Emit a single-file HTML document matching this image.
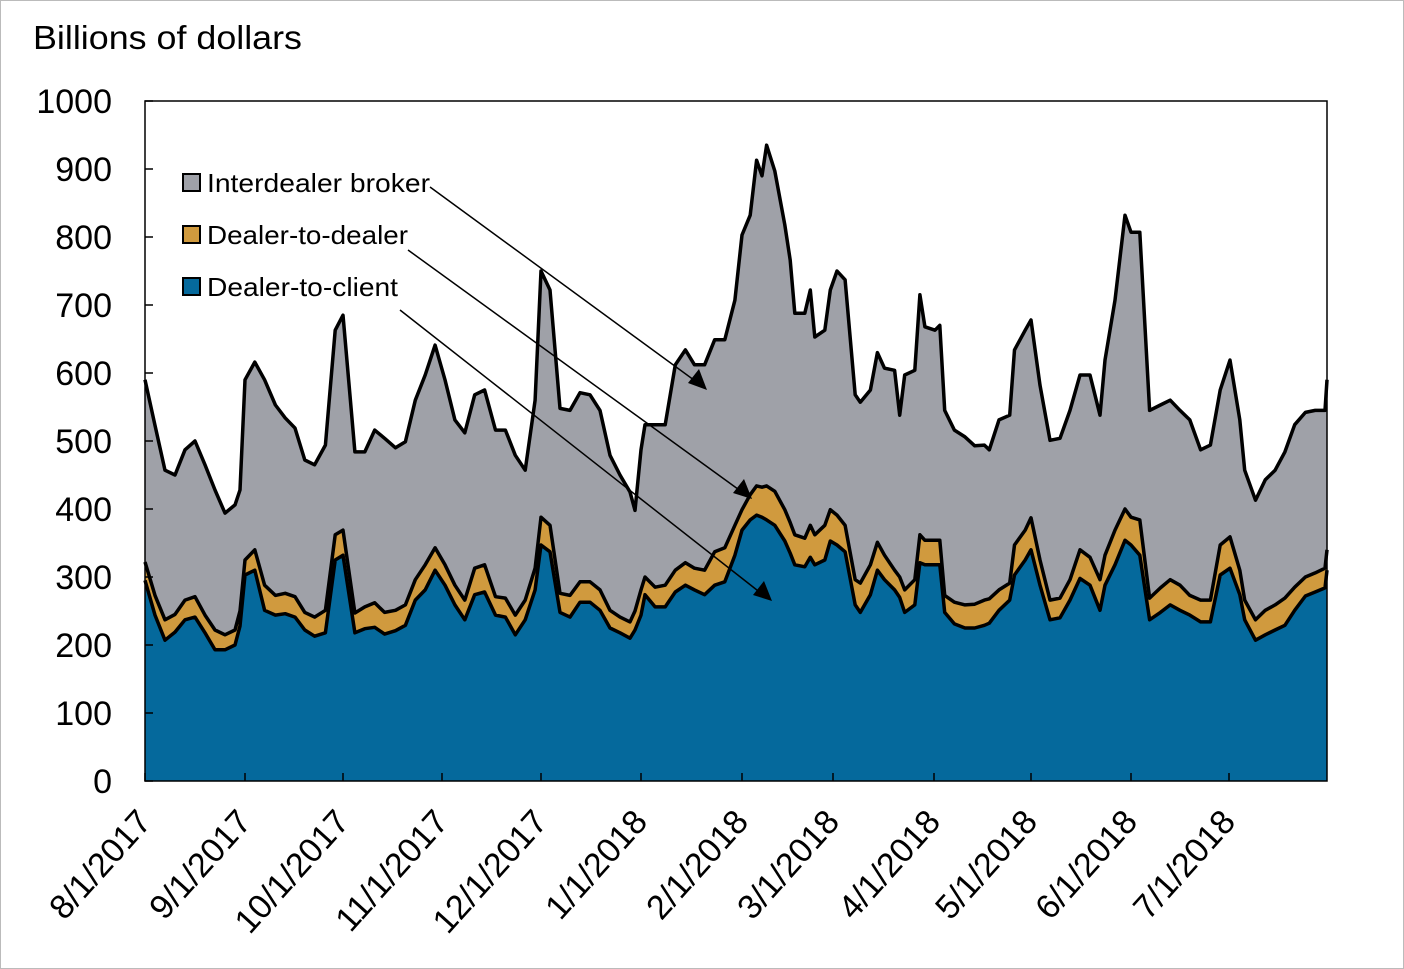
<!DOCTYPE html>
<html><head><meta charset="utf-8"><style>
html,body{margin:0;padding:0;background:#fff;}
svg{display:block;font-family:"Liberation Sans",Arial,sans-serif;}
</style></head><body>
<svg id="chart" width="1404" height="969" viewBox="0 0 1404 969" xmlns="http://www.w3.org/2000/svg">
<rect x="0.5" y="0.5" width="1403" height="968" fill="#fff" stroke="#bbb"/>
<text x="33" y="49" font-size="33" textLength="269" lengthAdjust="spacingAndGlyphs" fill="#000">Billions of dollars</text>
<g id="plot"></g>
<g id="axes"></g>
<g id="legend">
<rect x="183" y="174" width="17" height="17" fill="#9fa1a8" stroke="#000" stroke-width="2"/>
<text x="207" y="192" font-size="26" textLength="223" lengthAdjust="spacingAndGlyphs">Interdealer broker</text>
<rect x="183" y="226" width="17" height="17" fill="#d09a3e" stroke="#000" stroke-width="2"/>
<text x="207" y="244" font-size="26" textLength="201" lengthAdjust="spacingAndGlyphs">Dealer-to-dealer</text>
<rect x="183" y="278" width="17" height="17" fill="#05699c" stroke="#000" stroke-width="2"/>
<text x="207" y="296" font-size="26" textLength="191" lengthAdjust="spacingAndGlyphs">Dealer-to-client</text>
</g>
<g id="arrows">
<line x1="430" y1="187" x2="698" y2="383" stroke="#000" stroke-width="1.5"/>
<polygon points="707,390 688,383 699,369" fill="#000"/>
<line x1="408" y1="250" x2="742" y2="492" stroke="#000" stroke-width="1.5"/>
<polygon points="752,499 733,493 744,479" fill="#000"/>
<line x1="400" y1="310" x2="762" y2="594" stroke="#000" stroke-width="1.5"/>
<polygon points="772,601 753,595 764,581" fill="#000"/>
</g>
</svg>
<script>
// time in months since 8/1/2017
var months = [0,.10,.20,.30,.40,.50,.60,.70,.80,.90,.95,1,1.10,1.20,1.31,1.41,1.51,1.61,1.71,1.82,1.92,2,2.12,2.22,2.32,2.42,2.53,2.63,2.73,2.83,2.93,3.03,3.13,3.23,3.33,3.43,3.54,3.64,3.74,3.84,3.94,4,4.09,4.19,4.29,4.39,4.49,4.59,4.69,4.79,4.89,4.94,5,5.04,5.14,5.24,5.34,5.44,5.53,5.63,5.73,5.83,5.93,6,6.09,6.16,6.22,6.27,6.36,6.47,6.53,6.58,6.69,6.75,6.80,6.91,6.97,7.04,7.12,7.22,7.27,7.37,7.44,7.51,7.61,7.66,7.71,7.81,7.86,7.91,8.01,8.06,8.11,8.21,8.32,8.42,8.52,8.57,8.67,8.78,8.83,8.94,9,9.09,9.19,9.29,9.39,9.49,9.59,9.69,9.74,9.84,9.94,10,10.09,10.19,10.30,10.40,10.50,10.60,10.71,10.81,10.91,11.01,11.11,11.16,11.27,11.37,11.47,11.57,11.67,11.78,11.88,11.98,12];
var dealerToClient = [295,244,207,219,237,241,218,193,193,200,228,303,310,251,244,246,241,222,213,218,325,332,218,224,226,216,221,229,266,281,310,288,259,237,274,278,244,241,215,237,281,347,337,248,241,263,263,251,225,218,210,222,244,274,256,256,278,288,281,274,288,293,332,369,384,391,388,384,376,353,335,318,315,329,318,325,353,347,337,259,248,274,310,296,281,270,248,259,321,318,318,318,248,231,225,225,229,232,251,266,303,325,340,288,237,240,266,298,288,251,288,318,354,347,332,237,248,259,251,244,234,234,303,313,274,237,207,215,222,229,251,272,278,284,310];
var dealerToDealer = [27,29,30,26,29,30,26,29,22,22,22,22,30,37,29,30,30,26,28,33,37,37,29,32,36,32,30,30,30,37,33,30,29,29,39,40,27,28,29,29,32,41,39,28,32,30,30,30,26,23,24,28,37,26,29,32,32,33,32,36,49,50,44,30,37,43,44,50,50,46,45,44,42,47,44,51,46,44,39,37,43,44,41,36,29,30,33,37,41,36,36,36,25,32,34,35,37,36,30,25,44,44,47,37,29,29,30,42,41,45,44,51,46,41,52,32,36,37,37,29,32,32,44,46,36,29,30,36,37,40,34,28,28,29,30];
var interdealerBroker = [268,250,220,205,221,229,221,206,179,184,178,265,276,302,280,258,248,224,224,243,301,316,237,228,254,256,239,240,264,279,298,272,243,246,255,257,245,247,235,191,247,362,346,272,272,278,275,264,228,209,191,148,206,224,239,236,302,313,299,302,312,306,331,404,411,479,458,501,471,419,386,326,331,346,291,287,323,359,361,272,266,257,279,275,294,238,316,308,353,314,309,316,272,253,247,233,228,219,250,247,287,294,291,257,235,235,249,257,268,242,287,338,432,419,423,276,269,264,257,258,221,228,228,260,221,191,176,192,198,215,239,242,239,232,250];
var yTicks = [0,100,200,300,400,500,600,700,800,900,1000];
var xTickLabels = ["8/1/2017","9/1/2017","10/1/2017","11/1/2017","12/1/2017","1/1/2018","2/1/2018","3/1/2018","4/1/2018","5/1/2018","6/1/2018","7/1/2018"];

var X0=145, X1=1327, Y0=781, Y1=101;
var monthPx=[145,245,343,442,541,641,742,833,934,1031,1131,1229,1327];
function xScale(t){var i=Math.min(Math.floor(t),11);var f=t-i;return monthPx[i]+f*(monthPx[i+1]-monthPx[i]);}
function yScale(v){return Y0-(v-0)/(1000-0)*(Y0-Y1);}
var NS="http://www.w3.org/2000/svg";
var plot=document.getElementById('plot'), axes=document.getElementById('axes');
function mk(tag,attrs,parent){var e=document.createElementNS(NS,tag);for(var k in attrs)e.setAttribute(k,attrs[k]);parent.appendChild(e);return e;}

var n=months.length, lo=[], mid=[], hi=[];
for(var i=0;i<n;i++){lo.push(dealerToClient[i]);mid.push(dealerToClient[i]+dealerToDealer[i]);hi.push(mid[i]+interdealerBroker[i]);}
function areaPath(top,bot){var d='';for(var i=0;i<n;i++)d+=(i?'L':'M')+xScale(months[i]).toFixed(1)+','+yScale(top[i]).toFixed(1);
 for(var i=n-1;i>=0;i--)d+='L'+xScale(months[i]).toFixed(1)+','+yScale(bot?bot[i]:0).toFixed(1);return d+'Z';}
function linePath(top){var d='';for(var i=0;i<n;i++)d+=(i?'L':'M')+xScale(months[i]).toFixed(1)+','+yScale(top[i]).toFixed(1);return d;}

var a1=mk('path',{d:areaPath(hi,mid),fill:'#9fa1a8'},plot);


var a2=mk('path',{d:areaPath(mid,lo),fill:'#d09a3e'},plot);


var a3=mk('path',{d:areaPath(lo,null),fill:'#05699c'},plot);


[[hi,'line-total'],[mid,'line-dealer-to-dealer-top'],[lo,'line-dealer-to-client-top']].forEach(function(p){
 var l=mk('path',{d:linePath(p[0]),fill:'none',stroke:'#000','stroke-width':3.5,'stroke-linejoin':'round'},plot);
 
 
});

var box=mk('rect',{x:X0,y:Y1,width:X1-X0,height:Y0-Y1,fill:'none',stroke:'#000','stroke-width':1.5},axes);


yTicks.forEach(function(v){
 var y=yScale(v);
 var t=mk('line',{x1:X0,x2:X0+8,y1:y,y2:y,stroke:'#000','stroke-width':1.5},axes);
 
 
 var tx=mk('text',{x:112,y:y+12,'font-size':34,'text-anchor':'end'},axes);
 tx.textContent=v;
 
 
});
xTickLabels.forEach(function(lab,i){
 var x=xScale(i);
 var t=mk('line',{x1:x,x2:x,y1:Y0,y2:Y0-8,stroke:'#000','stroke-width':1.5},axes);
 
 
 var tx=mk('text',{x:x+8,y:Y0+42,'font-size':34,'text-anchor':'end',transform:'rotate(-48 '+(x+8)+' '+(Y0+42)+')'},axes);
 tx.textContent=lab;
 
 
});
</script>
</body></html>
